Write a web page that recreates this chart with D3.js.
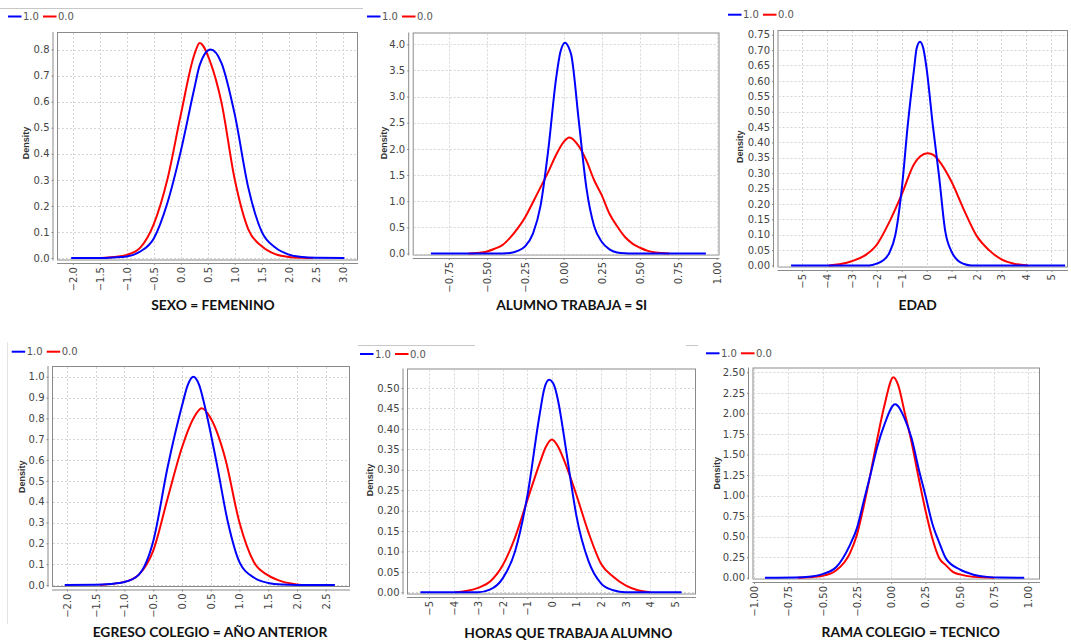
<!DOCTYPE html>
<html lang="es">
<head>
<meta charset="UTF-8">
<title>Densidades por variable</title>
<style>
    body { margin: 0; background: #fff; }
    svg { display: block; font-family: "DejaVu Sans", sans-serif; }
    .marco { fill: #fff; stroke: #8a8a8a; stroke-width: 1; }
    .grilla { stroke: #d6d6d6; stroke-width: 1; stroke-dasharray: 2,2; }
    .eje path, .eje line, .linea-eje { stroke: #8a8a8a; }
    .eje text { font-size: 10px; fill: #444; font-family: "DejaVu Sans", sans-serif; }
    .dens { font-family: "Liberation Sans", sans-serif; font-weight: bold; font-size: 9px; fill: #333; }
    .titulo { font-family: Lato, sans-serif; font-weight: bold; font-size: 13.8px; fill: #111; text-anchor: middle; }
    .ley { font-size: 10px; fill: #555; }
    .borde { stroke: #c8c8c8; stroke-width: 1; }
</style>
<script src="https://d3js.org/d3.v7.min.js"></script>
</head>
<body>
<svg id="grafico" width="1071" height="642"></svg>
<script>
// nombres de las series
const series = ['1.0', '0.0'];
const titulos = ['SEXO = FEMENINO', 'ALUMNO TRABAJA = SI', 'EDAD',
                 'EGRESO COLEGIO = AÑO ANTERIOR', 'HORAS QUE TRABAJA ALUMNO', 'RAMA COLEGIO = TECNICO'];

// SEXO = FEMENINO
const sexoUnoX = [-2.03, -1.5, -1.25, -1.0, -0.75, -0.5, -0.25, 0.0, 0.25, 0.35, 0.55, 0.75, 1.0, 1.25, 1.5, 1.75, 2.0, 2.25, 2.5, 3.03];
const sexoUnoY = [0, 0, 0.002, 0.006, 0.025, 0.075, 0.21, 0.41, 0.65, 0.74, 0.80, 0.75, 0.55, 0.27, 0.10, 0.04, 0.013, 0.004, 0.001, 0];
const sexoCeroX = [-1.48, -1.25, -1.0, -0.75, -0.5, -0.25, 0.0, 0.25, 0.35, 0.55, 0.75, 1.0, 1.25, 1.5, 1.75, 2.0, 2.25, 2.45];
const sexoCeroY = [0, 0.004, 0.012, 0.04, 0.13, 0.30, 0.55, 0.78, 0.825, 0.75, 0.60, 0.30, 0.11, 0.045, 0.015, 0.004, 0.001, 0];
const sexoTicksX = [-2.0, -1.5, -1.0, -0.5, 0.0, 0.5, 1.0, 1.5, 2.0, 2.5, 3.0];
const sexoTicksY = [0.0, 0.1, 0.2, 0.3, 0.4, 0.5, 0.6, 0.7, 0.8];

// ALUMNO TRABAJA = SI
const trabUnoX = [-0.867, -0.45, -0.4, -0.35, -0.3, -0.25, -0.2, -0.15, -0.1, -0.05, -0.02, 0.01, 0.035, 0.05, 0.1, 0.15, 0.2, 0.25, 0.3, 0.35, 0.4, 0.45, 0.93];
const trabUnoY = [0, 0, 0.002, 0.01, 0.05, 0.14, 0.38, 0.92, 1.98, 3.32, 3.86, 4.03, 3.93, 3.80, 2.52, 1.24, 0.52, 0.22, 0.08, 0.02, 0.004, 0, 0];
const trabCeroX = [-0.62, -0.5, -0.45, -0.4, -0.35, -0.3, -0.25, -0.2, -0.15, -0.1, -0.05, 0.0, 0.037, 0.1, 0.15, 0.2, 0.25, 0.3, 0.35, 0.4, 0.45, 0.5, 0.55, 0.6, 0.69];
const trabCeroY = [0, 0.04, 0.09, 0.16, 0.30, 0.48, 0.70, 0.98, 1.27, 1.56, 1.88, 2.13, 2.22, 2.05, 1.77, 1.40, 1.11, 0.76, 0.52, 0.32, 0.19, 0.11, 0.05, 0.02, 0];
const trabTicksX = [-0.75, -0.5, -0.25, 0.0, 0.25, 0.5, 0.75, 1.0];
const trabTicksY = [0.0, 0.5, 1.0, 1.5, 2.0, 2.5, 3.0, 3.5, 4.0];

// EDAD
const edadUnoX = [-5.43, -2.3, -2.0, -1.75, -1.5, -1.25, -1.0, -0.75, -0.5, -0.4, -0.266, -0.13, 0.0, 0.25, 0.5, 0.75, 1.0, 1.25, 1.5, 1.8, 5.55];
const edadUnoY = [0, 0, 0.006, 0.016, 0.04, 0.10, 0.245, 0.46, 0.64, 0.705, 0.727, 0.705, 0.64, 0.455, 0.29, 0.11, 0.045, 0.016, 0.005, 0, 0];
const edadCeroX = [-3.92, -3.5, -3.0, -2.5, -2.0, -1.5, -1.0, -0.5, -0.25, 0.04, 0.3, 0.5, 1.0, 1.5, 2.0, 2.5, 3.0, 3.5, 4.06];
const edadCeroY = [0, 0.004, 0.014, 0.031, 0.067, 0.14, 0.23, 0.33, 0.355, 0.365, 0.358, 0.34, 0.272, 0.18, 0.097, 0.05, 0.02, 0.006, 0];
const edadTicksX = [-5, -4, -3, -2, -1, 0, 1, 2, 3, 4, 5];
const edadTicksY = [0.00, 0.05, 0.10, 0.15, 0.20, 0.25, 0.30, 0.35, 0.40, 0.45, 0.50, 0.55, 0.60, 0.65, 0.70, 0.75];

// EGRESO COLEGIO = AÑO ANTERIOR
const egresoUnoX = [-2.04, -1.5, -1.25, -1.0, -0.75, -0.5, -0.25, 0.0, 0.1, 0.198, 0.3, 0.4, 0.6, 0.8, 1.0, 1.25, 1.5, 1.75, 2.0, 2.66];
const egresoUnoY = [0, 0.001, 0.005, 0.014, 0.05, 0.21, 0.565, 0.86, 0.96, 1.0, 0.96, 0.855, 0.59, 0.30, 0.11, 0.036, 0.01, 0.002, 0, 0];
const egresoCeroX = [-1.43, -1.0, -0.75, -0.5, -0.25, 0.0, 0.2, 0.343, 0.5, 0.75, 1.0, 1.25, 1.5, 1.75, 2.0, 2.087];
const egresoCeroY = [0, 0.015, 0.05, 0.165, 0.415, 0.66, 0.80, 0.848, 0.80, 0.61, 0.30, 0.11, 0.046, 0.016, 0.003, 0];
const egresoTicksX = [-2.0, -1.5, -1.0, -0.5, 0.0, 0.5, 1.0, 1.5, 2.0, 2.5];
const egresoTicksY = [0.0, 0.1, 0.2, 0.3, 0.4, 0.5, 0.6, 0.7, 0.8, 0.9, 1.0];

// HORAS QUE TRABAJA ALUMNO
const horasUnoX = [-5.35, -3.0, -2.5, -2.0, -1.5, -1.0, -0.5, -0.3, -0.108, 0.1, 0.25, 0.5, 0.75, 1.0, 1.5, 2.0, 2.5, 3.0, 5.28];
const horasUnoY = [0, 0, 0.007, 0.034, 0.10, 0.235, 0.434, 0.50, 0.52, 0.505, 0.47, 0.38, 0.28, 0.187, 0.075, 0.022, 0.005, 0, 0];
const horasCeroX = [-3.93, -3.5, -3.0, -2.5, -2.0, -1.5, -1.0, -0.5, -0.25, 0.0, 0.25, 0.5, 1.0, 1.5, 2.0, 2.5, 3.0, 3.5, 4.0];
const horasCeroY = [0, 0.003, 0.011, 0.027, 0.066, 0.134, 0.225, 0.315, 0.355, 0.374, 0.357, 0.323, 0.238, 0.145, 0.07, 0.038, 0.017, 0.005, 0];
const horasTicksX = [-5, -4, -3, -2, -1, 0, 1, 2, 3, 4, 5];
const horasTicksY = [0.00, 0.05, 0.10, 0.15, 0.20, 0.25, 0.30, 0.35, 0.40, 0.45, 0.50];

// RAMA COLEGIO = TECNICO
const ramaUnoX = [-0.92, -0.7, -0.6, -0.5, -0.4, -0.3, -0.25, -0.2, -0.15, -0.1, -0.05, 0.029, 0.1, 0.15, 0.2, 0.25, 0.3, 0.35, 0.4, 0.5, 0.6, 0.7, 0.8, 0.97];
const ramaUnoY = [0, 0.003, 0.012, 0.044, 0.13, 0.40, 0.60, 0.93, 1.26, 1.60, 1.86, 2.11, 1.93, 1.69, 1.33, 1.0, 0.66, 0.43, 0.232, 0.10, 0.037, 0.01, 0.002, 0];
const ramaCeroX = [-0.68, -0.6, -0.5, -0.4, -0.3, -0.25, -0.2, -0.15, -0.1, -0.05, 0.017, 0.05, 0.1, 0.15, 0.2, 0.25, 0.3, 0.35, 0.4, 0.45, 0.5, 0.6, 0.753];
const ramaCeroY = [0, 0.005, 0.022, 0.09, 0.30, 0.52, 0.87, 1.27, 1.70, 2.09, 2.44, 2.35, 2.0, 1.64, 1.22, 0.82, 0.48, 0.24, 0.15, 0.07, 0.04, 0.01, 0];
const ramaTicksX = [-1.0, -0.75, -0.5, -0.25, 0.0, 0.25, 0.5, 0.75, 1.0];
const ramaTicksY = [0.0, 0.25, 0.5, 0.75, 1.0, 1.25, 1.5, 1.75, 2.0, 2.25, 2.5];

// ubicacion de cada grafico dentro de la captura
const paneles = [
    { uno: [sexoUnoX, sexoUnoY], cero: [sexoCeroX, sexoCeroY], tx: sexoTicksX, ty: sexoTicksY, fx: '.1f', fy: '.1f',
      caja: [57, 32, 357, 259.5], dx: [-2, 3], rx: [72.8, 342.8], dy: [0, 0.8], ry: [258, 49.5],
      ley: [8, 16.5], tit: [213, 310], den: [25.5, 143] },
    { uno: [trabUnoX, trabUnoY], cero: [trabCeroX, trabCeroY], tx: trabTicksX, ty: trabTicksY, fx: '.2f', fy: '.1f',
      caja: [412.7, 32.5, 718.5, 254.5], dx: [-0.75, 1], rx: [448.8, 716.6], dy: [0, 4], ry: [253.5, 44.3],
      ley: [367, 16.5], tit: [571.7, 310], den: [384, 143] },
    { uno: [edadUnoX, edadUnoY], cero: [edadCeroX, edadCeroY], tx: edadTicksX, ty: edadTicksY, fx: 'd', fy: '.2f',
      caja: [777.5, 30, 1067, 266.5], dx: [-5, 5], rx: [801.8, 1051.4], dy: [0, 0.75], ry: [265.5, 34.7],
      ley: [728, 14.7], tit: [917.7, 310], den: [740, 146.7] },
    { uno: [egresoUnoX, egresoUnoY], cero: [egresoCeroX, egresoCeroY], tx: egresoTicksX, ty: egresoTicksY, fx: '.1f', fy: '.1f',
      caja: [52, 366, 349, 586], dx: [-2, 2.5], rx: [67, 325.7], dy: [0, 1], ry: [585, 376.7],
      ley: [11.7, 351.7], tit: [210, 636.7], den: [21.7, 476.7] },
    { uno: [horasUnoX, horasUnoY], cero: [horasCeroX, horasCeroY], tx: horasTicksX, ty: horasTicksY, fx: 'd', fy: '.2f',
      caja: [407, 368.5, 695, 593.5], dx: [-5, 5], rx: [429, 674.7], dy: [0, 0.5], ry: [592.3, 388],
      ley: [360, 354], tit: [568.3, 638.3], den: [370, 480] },
    { uno: [ramaUnoX, ramaUnoY], cero: [ramaCeroX, ramaCeroY], tx: ramaTicksX, ty: ramaTicksY, fx: '.2f', fy: '.2f',
      caja: [752.5, 367.5, 1039, 578.5], dx: [-1, 1], rx: [754, 1028.3], dy: [0, 2.5], ry: [577.7, 372.3],
      ley: [706, 353.3], tit: [910.7, 636.7], den: [716.7, 473.3] }
];

const colores = ['#0000ff', '#ff0000'];
const svg = d3.select('#grafico');

// restos de la captura: lineas grises de los bordes
svg.append('line').classed('borde', true).attr('x1', 0).attr('x2', 363).attr('y1', 8.5).attr('y2', 8.5);
svg.append('line').classed('borde', true).attr('x1', 358).attr('x2', 475).attr('y1', 345.5).attr('y2', 345.5);
svg.append('line').classed('borde', true).attr('x1', 686).attr('x2', 698).attr('y1', 345.5).attr('y2', 345.5);
svg.append('line').classed('borde', true).attr('x1', 7.5).attr('x2', 7.5).attr('y1', 342).attr('y2', 624).style('stroke', '#e4e4e4');

paneles.forEach((p, i) => {
    const g = svg.append('g');
    const [x0, y0, x1, y1] = p.caja;
    const x = d3.scaleLinear().domain(p.dx).range(p.rx);
    const y = d3.scaleLinear().domain(p.dy).range(p.ry);

    g.append('rect').classed('marco', true)
        .attr('x', x0 + 0.5).attr('y', y0 + 0.5)
        .attr('width', x1 - x0).attr('height', y1 - y0);

    // grilla
    g.selectAll('.gv').data(p.tx).enter().append('line').classed('grilla', true)
        .attr('x1', d => Math.round(x(d)) + 0.5).attr('x2', d => Math.round(x(d)) + 0.5)
        .attr('y1', y0 + 1).attr('y2', y1);
    g.selectAll('.gh').data(p.ty).enter().append('line').classed('grilla', true)
        .attr('y1', d => Math.round(y(d)) + 0.5).attr('y2', d => Math.round(y(d)) + 0.5)
        .attr('x1', x0 + 1).attr('x2', x1);

    // eje X
    const ejeXpos = y1 + 3.5;
    const ax = g.append('g').classed('eje', true)
        .attr('transform', `translate(0,${ejeXpos})`)
        .call(d3.axisBottom(x).tickValues(p.tx).tickFormat(d3.format(p.fx)).tickSize(2).tickSizeOuter(0));
    ax.select('.domain').remove();
    ax.selectAll('text')
        .attr('transform', 'rotate(-90)')
        .attr('text-anchor', 'end')
        .attr('x', -4).attr('y', 0).attr('dy', '0.35em');
    g.append('line').classed('linea-eje', true)
        .attr('x1', x0).attr('x2', x1 + 1).attr('y1', ejeXpos + 0.5).attr('y2', ejeXpos + 0.5);

    // eje Y
    const ejeYpos = x0 - 3.5;
    const ay = g.append('g').classed('eje', true)
        .attr('transform', `translate(${ejeYpos},0)`)
        .call(d3.axisLeft(y).tickValues(p.ty).tickFormat(d3.format(p.fy)).tickSize(2).tickPadding(2).tickSizeOuter(0));
    ay.select('.domain').remove();
    g.append('line').classed('linea-eje', true)
        .attr('x1', ejeYpos - 0.5).attr('x2', ejeYpos - 0.5).attr('y1', y0).attr('y2', y1 + 1);

    // curvas de densidad (primero la roja, la azul encima)
    const linea = d3.line().x(d => x(d[0])).y(d => y(d[1])).curve(d3.curveMonotoneX);
    [p.cero, p.uno].forEach((s, k) => {
        const pts = s[0].map((v, j) => [v, s[1][j]]);
        g.append('path').datum(pts)
            .attr('d', linea)
            .attr('fill', 'none')
            .attr('stroke', colores[1 - k])
            .attr('stroke-width', 2)
            .attr('stroke-linejoin', 'round');
    });

    // leyenda
    const [lx, ly] = p.ley;
    series.forEach((nombre, k) => {
        const off = lx + k * 35;
        g.append('line').attr('x1', off).attr('x2', off + 13.5).attr('y1', ly).attr('y2', ly)
            .attr('stroke', colores[k]).attr('stroke-width', 2);
        g.append('text').classed('ley', true).attr('x', off + 15).attr('y', ly + 3.6).text(nombre);
    });

    // etiqueta Density
    g.append('text').classed('dens', true)
        .attr('transform', `translate(${p.den[0]},${p.den[1]}) rotate(-90)`)
        .attr('text-anchor', 'middle').attr('dy', '0.35em')
        .text('Density');

    // titulo debajo
    g.append('text').classed('titulo', true)
        .attr('x', p.tit[0]).attr('y', p.tit[1])
        .text(titulos[i]);
});
</script>
</body>
</html>
